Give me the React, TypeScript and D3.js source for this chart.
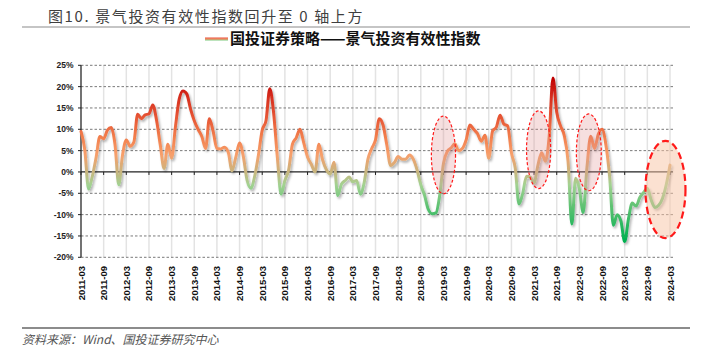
import React from 'react';
import * as d3 from 'd3';

// monthly index values, 2011-03 .. 2024-03 (%)
const vals2011 = [9.5, 5.2, -4.0, -1.0, 3.4, 8.3, 7.8, 9.8, 10.4, 6.5];
const vals2012 = [-3.0, 4.0, 7.5, 6.0, 7.0, 13.5, 12.5, 13.4, 13.6, 15.7, 12.2, 6.3];
const vals2013 = [0.8, 6.5, 3.2, 10.5, 17.0, 19.0, 18.3, 14.8, 12.0, 10.0, 8.3, 5.5];
const vals2014 = [12.5, 9.5, 5.5, 5.4, 5.8, 4.6, 0.3, 3.5, 6.8, 3.6, -2.0, -3.8];
const vals2015 = [-1.0, 4.0, 9.8, 12.0, 19.5, 14.0, 3.5, -5.2, -2.0, 0.5, 6.5, 8.0];
const vals2016 = [10.0, 6.8, 3.5, 1.8, 0.0, 6.5, 2.8, 0.5, -0.5, 2.3, -5.5, -2.8];
const vals2017 = [-2.0, -1.2, -2.3, -2.0, -5.2, -2.5, 3.0, 5.5, 7.5, 12.5, 11.0, 6.3];
const vals2018 = [1.5, 2.2, 3.6, 3.0, 3.0, 4.0, 3.0, 0.5, -3.0, -5.5, -8.8, -9.8];
const vals2019 = [-9.6, -5.5, 2.0, 4.8, 5.6, 6.6, 5.0, 5.5, 7.5, 11.0, 10.0, 9.0];
const vals2020 = [7.2, 8.6, 3.2, 9.6, 10.5, 13.3, 11.2, 10.8, 4.5, 1.0, -7.5, -5.0];
const vals2021 = [-1.0, -1.2, -2.5, 1.5, 4.5, 2.5, 8.3, 22.0, 14.0, 10.8, 8.5, 2.5];
const vals2022 = [-12.2, -1.5, -4.0, -9.5, 1.0, 8.4, 5.5, 8.8, 10.0, 6.5, -1.0, -12.5];
const vals2023 = [-10.0, -11.5, -16.3, -11.0, -7.3, -8.0, -6.0, -4.8, -3.8, -6.5, -8.3, -7.8];
const vals2024 = [-6.2, -3.0, 1.6];

const xTickLabels = [
  '2011-03', '2011-09', '2012-03', '2012-09', '2013-03', '2013-09', '2014-03',
  '2014-09', '2015-03', '2015-09', '2016-03', '2016-09', '2017-03', '2017-09',
  '2018-03', '2018-09', '2019-03', '2019-09', '2020-03', '2020-09', '2021-03',
  '2021-09', '2022-03', '2022-09', '2023-03', '2023-09', '2024-03',
];
const yTicks = [25, 20, 15, 10, 5, 0, -5, -10, -15, -20];

// highlighted areas: centre month index, centre value, half width (months), half height (%)
const highlights = [
  { m: 96, v: 4.0, rm: 3.2, rv: 9.1, big: false },
  { m: 121.2, v: 5.2, rm: 3.2, rv: 9.1, big: false },
  { m: 134.5, v: 4.6, rm: 3.3, rv: 9.0, big: false },
  { m: 154.8, v: -4.1, rm: 5.3, rv: 11.4, big: true },
];

const colorStops: [number, string][] = [
  [22, '#c00000'],
  [18, '#d42a1c'],
  [13, '#e65434'],
  [8, '#f2804e'],
  [4, '#f7a06c'],
  [0, '#c8b57e'],
  [-3, '#a3d292'],
  [-8, '#5fc273'],
  [-16, '#00b050'],
];

const W = 706;
const H = 359;
const cjk = '"Noto Sans CJK SC", "Noto Sans", sans-serif';
const latin = '"Liberation Sans", Arial, sans-serif';

export default function App() {
  const values = [
    ...vals2011, ...vals2012, ...vals2013, ...vals2014, ...vals2015,
    ...vals2016, ...vals2017, ...vals2018, ...vals2019, ...vals2020,
    ...vals2021, ...vals2022, ...vals2023, ...vals2024,
  ];
  const data = values.map((v, i) => ({ m: i, v }));

  const x = d3.scaleLinear().domain([0, 156]).range([81, 670]);
  const y = d3.scaleLinear().domain([-20, 25]).range([257.3, 65.3]);
  const plotRight = 673;

  const line = d3
    .line<{ m: number; v: number }>()
    .x((d) => x(d.m))
    .y((d) => y(d.v))
    .curve(d3.curveMonotoneX);

  const gTop = colorStops[0][0];
  const gBot = colorStops[colorStops.length - 1][0];

  return (
    <svg
      width={W}
      height={H}
      style={{ position: 'absolute', left: 0, top: 0, background: '#fff' }}
    >
      <defs>
        <linearGradient id="valGrad" gradientUnits="userSpaceOnUse" x1={0} x2={0} y1={y(gTop)} y2={y(gBot)}>
          {colorStops.map(([v, c]) => (
            <stop key={v} offset={(gTop - v) / (gTop - gBot)} stopColor={c} />
          ))}
        </linearGradient>
        <linearGradient id="legGrad" x1={0} x2={0} y1={0} y2={1}>
          <stop offset={0} stopColor="#e8503a" />
          <stop offset={0.5} stopColor="#f2906a" />
          <stop offset={1} stopColor="#7cc87c" />
        </linearGradient>
        <filter id="shadow" x="-5%" y="-10%" width="110%" height="120%">
          <feDropShadow dx={1.5} dy={2} stdDeviation={1.2} floodColor="#000" floodOpacity={0.3} />
        </filter>
      </defs>

      {/* title */}
      <text x={48} y={22} fontFamily={cjk} fontSize={15} fill="#3f3f3f" letterSpacing={1.6}>
        图10. 景气投资有效性指数回升至 0 轴上方
      </text>
      <line x1={22} x2={690} y1={27} y2={27} stroke="#8c8c8c" strokeWidth={1.2} />

      {/* legend */}
      <rect x={205} y={37.5} width={23} height={3} fill="url(#legGrad)" />
      <text x={230} y={44} fontFamily={cjk} fontSize={15} fontWeight={700} fill="#111">
        国投证券策略——景气投资有效性指数
      </text>

      {/* vertical grid */}
      {xTickLabels.map((t, i) => (
        <line key={t} x1={x(i * 6)} x2={x(i * 6)} y1={y(25)} y2={y(-20)} stroke="#e3e3e3" strokeWidth={1.5} />
      ))}
      {/* horizontal dashed grid */}
      {yTicks.filter((v) => v !== 0).map((v) => (
        <line key={v} x1={x(0)} x2={plotRight} y1={y(v)} y2={y(v)} stroke="#7a7a7a" strokeWidth={1} strokeDasharray="2.5,2" />
      ))}

      {/* y axis */}
      <line x1={x(0)} x2={x(0)} y1={y(25)} y2={y(-20)} stroke="#222" strokeWidth={1.2} />
      {yTicks.map((v) => (
        <g key={v}>
          <line x1={x(0) - 3} x2={x(0)} y1={y(v)} y2={y(v)} stroke="#222" />
          <text x={73.5} y={y(v) + 3} textAnchor="end" fontFamily={latin} fontSize={8.5} fontWeight={700} fill="#222">
            {`${v}%`}
          </text>
        </g>
      ))}

      {/* zero axis */}
      <line x1={x(0)} x2={plotRight} y1={y(0)} y2={y(0)} stroke="#222" strokeWidth={1.3} />
      {xTickLabels.map((t, i) => (
        <line key={t} x1={x(i * 6)} x2={x(i * 6)} y1={y(0)} y2={y(0) + 3} stroke="#222" />
      ))}

      {/* x labels */}
      {xTickLabels.map((t, i) => (
        <text
          key={t}
          transform={`translate(${x(i * 6) + 3.5},266) rotate(-90)`}
          textAnchor="end"
          fontFamily={latin}
          fontSize={9.5}
          fontWeight={700}
          fill="#111"
        >
          {t}
        </text>
      ))}

      {/* series */}
      <path
        d={line(data) || ''}
        fill="none"
        stroke="url(#valGrad)"
        strokeWidth={3}
        strokeLinejoin="round"
        strokeLinecap="round"
        filter="url(#shadow)"
      />

      {/* highlight ellipses */}
      {highlights.map((h, i) => (
        <ellipse
          key={i}
          cx={x(h.m)}
          cy={y(h.v)}
          rx={x(h.m + h.rm) - x(h.m)}
          ry={y(h.v - h.rv) - y(h.v)}
          fill={h.big ? 'rgba(247,196,164,0.5)' : 'rgba(222,140,140,0.28)'}
          stroke="#ff1a1a"
          strokeWidth={h.big ? 2.2 : 1.2}
          strokeDasharray={h.big ? '7,4' : '3,2'}
        />
      ))}

      {/* source */}
      <line x1={22} x2={690} y1={328} y2={328} stroke="#8c8c8c" strokeWidth={1.8} />
      <text x={22} y={344} fontFamily={cjk} fontSize={12} fontStyle="italic" fill="#555">
        资料来源：Wind、国投证券研究中心
      </text>
    </svg>
  );
}
